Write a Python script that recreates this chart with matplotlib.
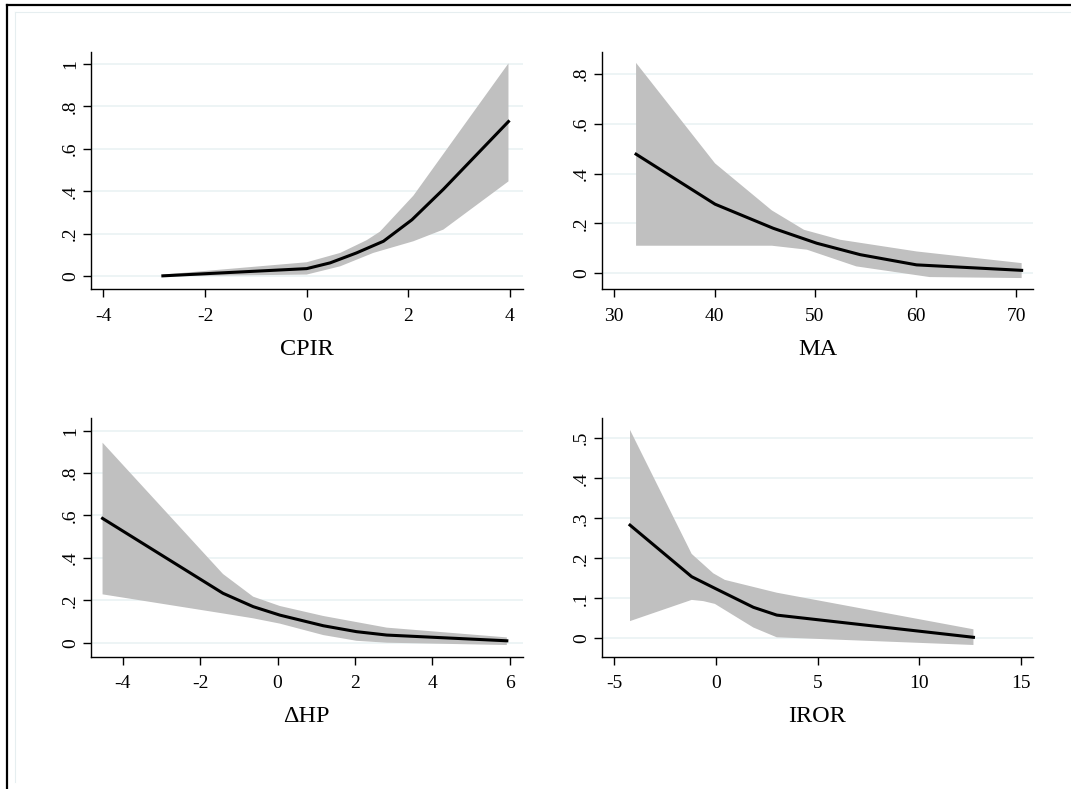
import matplotlib
matplotlib.use("Agg")
import matplotlib.pyplot as plt
from matplotlib.lines import Line2D

plt.rcParams['font.family'] = ['Liberation Serif', 'DejaVu Serif']

# ---- Data ----
cpir_x = [-2.83, 0.0, 0.46, 0.98, 1.51, 2.07, 2.69, 3.97]
cpir_y = [0.002, 0.036, 0.063, 0.11, 0.165, 0.266, 0.41, 0.729]
cpir_ux = [-2.83, 0.0, 0.66, 1.18, 1.44, 2.10, 3.97]
cpir_u = [0.008, 0.066, 0.11, 0.17, 0.21, 0.38, 1.003]
cpir_lx = [-2.83, 0.0, 0.66, 1.31, 2.10, 2.69, 3.97]
cpir_l = [0.0, 0.008, 0.047, 0.11, 0.165, 0.22, 0.447]

ma_x = [32.19, 40.05, 45.85, 50.17, 54.5, 60.1, 70.56]
ma_y = [0.478, 0.277, 0.18, 0.12, 0.074, 0.033, 0.011]
ma_ux = [32.19, 40.05, 45.7, 48.9, 52.5, 60.1, 70.56]
ma_u = [0.845, 0.441, 0.252, 0.174, 0.134, 0.087, 0.04]
ma_lx = [32.19, 45.7, 49.2, 54.1, 61.4, 70.56]
ma_l = [0.11, 0.11, 0.094, 0.027, -0.016, -0.02]

hp_x = [-4.52, -1.41, -0.63, 0.06, 1.18, 2.04, 2.82, 5.92]
hp_y = [0.586, 0.233, 0.17, 0.13, 0.08, 0.052, 0.036, 0.009]
hp_ux = [-4.52, -1.41, -0.63, 0.06, 1.18, 2.82, 5.92]
hp_u = [0.943, 0.324, 0.217, 0.173, 0.126, 0.071, 0.025]
hp_lx = [-4.52, -1.41, -0.63, 0.06, 1.18, 2.04, 2.82, 5.92]
hp_l = [0.228, 0.138, 0.115, 0.09, 0.036, 0.009, 0.0, -0.011]

iror_x = [-4.21, -1.18, -0.04, 1.85, 3.0, 12.66]
iror_y = [0.283, 0.154, 0.125, 0.0775, 0.058, 0.0025]
iror_ux = [-4.21, -1.18, -0.12, 0.45, 3.0, 12.66]
iror_u = [0.521, 0.211, 0.1625, 0.146, 0.114, 0.0225]
iror_lx = [-4.21, -1.18, -0.61, -0.04, 1.85, 3.0, 12.66]
iror_l = [0.043, 0.096, 0.093, 0.086, 0.027, 0.0025, -0.0167]

labels = ["CPIR", "MA", "ΔHP", "IROR"]
xticks = [[-4, -2, 0, 2, 4], [30, 40, 50, 60, 70], [-4, -2, 0, 2, 4, 6], [-5, 0, 5, 10, 15]]
yticks = [[0, .2, .4, .6, .8, 1], [0, .2, .4, .6, .8], [0, .2, .4, .6, .8, 1], [0, .1, .2, .3, .4, .5]]
yticklabels = [["0", ".2", ".4", ".6", ".8", "1"], ["0", ".2", ".4", ".6", ".8"],
               ["0", ".2", ".4", ".6", ".8", "1"], ["0", ".1", ".2", ".3", ".4", ".5"]]
xlims = [(-4.25, 4.25), (28.77, 71.72), (-4.826, 6.33), (-5.6, 15.6)]
ylims = [(-0.06, 1.058), (-0.064, 0.89), (-0.066, 1.058), (-0.046, 0.55)]

series = [
    (cpir_x, cpir_y, cpir_ux, cpir_u, cpir_lx, cpir_l),
    (ma_x, ma_y, ma_ux, ma_u, ma_lx, ma_l),
    (hp_x, hp_y, hp_ux, hp_u, hp_lx, hp_l),
    (iror_x, iror_y, iror_ux, iror_u, iror_lx, iror_l),
]

W, H = 1071, 789
fig = plt.figure(figsize=(W / 100, H / 100), dpi=100)
fig.patch.set_facecolor("white")

# axes boxes in pixels: left, right, top, bottom
boxes = [(90.7, 522.7, 51.7, 289.0), (601.7, 1033.3, 51.7, 289.0),
         (90.7, 522.7, 418.3, 656.7), (601.7, 1033.3, 418.3, 656.7)]

band_color = "#c0c0c0"
grid_color = "#eaf2f3"

for i, (l, r, t, b) in enumerate(boxes):
    ax = fig.add_axes([l / W, 1 - b / H, (r - l) / W, (b - t) / H])
    x, y, ux, u, lx, lo = series[i]
    px = list(ux) + list(lx)[::-1]
    py = list(u) + list(lo)[::-1]
    ax.fill(px, py, color=band_color, lw=0, zorder=2)
    ax.plot(x, y, color="black", lw=2.2, zorder=3, solid_joinstyle="round")
    ax.set_xlim(*xlims[i])
    ax.set_ylim(*ylims[i])
    ax.set_xticks(xticks[i])
    ax.set_xticklabels([str(v) for v in xticks[i]])
    ax.set_yticks(yticks[i])
    ax.set_yticklabels(yticklabels[i], rotation=90, va="center")
    for yv in yticks[i]:
        ax.axhline(yv, color=grid_color, lw=1.2, zorder=1)
    for s in ["top", "right"]:
        ax.spines[s].set_visible(False)
    for s in ["left", "bottom"]:
        ax.spines[s].set_linewidth(1.0)
    ax.tick_params(axis="both", direction="out", length=5.5, width=1.0, labelsize=14)
    ax.tick_params(axis="x", pad=8)
    ax.tick_params(axis="y", pad=3)
    ax.set_xlabel(labels[i], fontsize=17.5, labelpad=10)

# outer frame (partially cropped in reference)
fig.add_artist(Line2D([6.5 / W, 6.5 / W], [0, 1 - 5 / H], transform=fig.transFigure, color="black", lw=1.6))
fig.add_artist(Line2D([6.5 / W, 1], [1 - 5 / H, 1 - 5 / H], transform=fig.transFigure, color="black", lw=1.6))
fig.add_artist(Line2D([15 / W, 15 / W], [1 - 782 / H, 1 - 12 / H], transform=fig.transFigure, color="#e6eef0", lw=0.8))
fig.add_artist(Line2D([15 / W, 1], [1 - 12 / H, 1 - 12 / H], transform=fig.transFigure, color="#e6eef0", lw=0.8))

fig.savefig("out.png", dpi=100, facecolor="white")
